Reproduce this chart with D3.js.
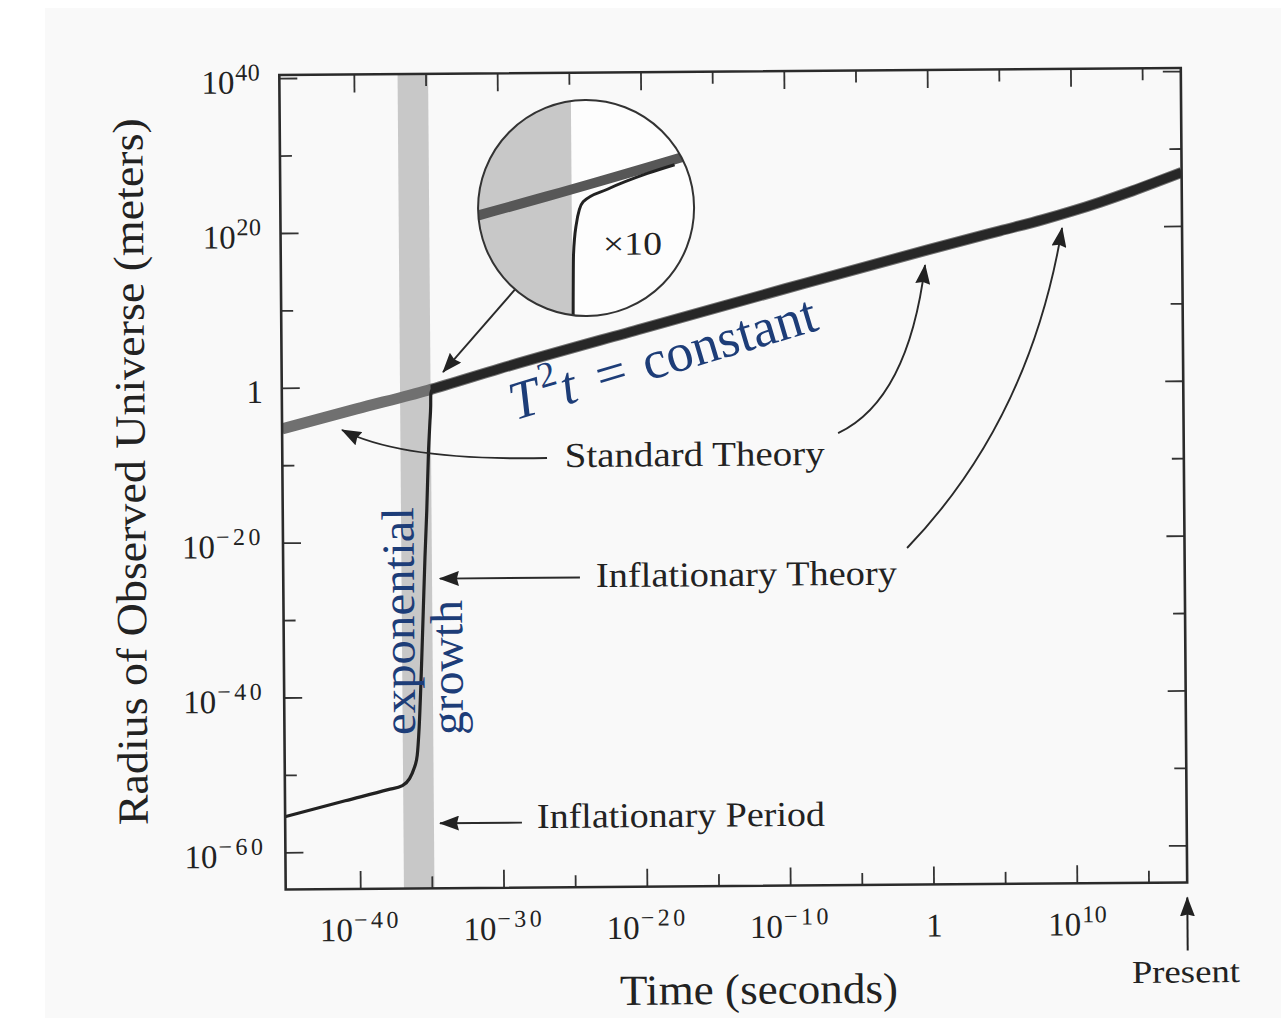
<!DOCTYPE html>
<html>
<head>
<meta charset="utf-8">
<script src="https://cdn.jsdelivr.net/npm/d3@7"></script>
<style>
  html, body { margin: 0; padding: 0; background: #ffffff; }
  svg { display: block; }
</style>
</head>
<body>
<svg id="chart" width="1281" height="1018"></svg>
<script>
// Time is given as log10(seconds), radius as log10(meters).
const standardTime   = [-45.2, -40, -35, -30, -20, -10, 0, 5, 8, 10, 12, 14, 16, 17.7];
const standardRadius = [-5.3, -2.8, -0.45, 2.25, 7.3, 12.3, 17.2, 19.55, 20.95, 22.0, 23.15, 24.4, 25.75, 26.9];

const inflationTime   = [-45.2, -41, -38, -37.0, -36.5, -36.2, -35.95, -35.8, -35.6, -35.45, -35.3, -35.15, -35.0,
                         -34.88, -34.82, -34.81, -34.79, -34.74, -34.57, -34.29, -34.10];
const inflationRadius = [-55.4, -53.4, -52.0, -51.5, -50.6, -49.4, -47.6, -44, -36, -29, -22, -16, -8.5,
                         -4.5, -2.5, -1.2, -0.82, -0.52, -0.36, -0.16, -0.05];

const inflationPeriod = [-36.95, -34.82];   // shaded band, log10 s
const timeDomain   = [-45.2, 17.7];
const radiusDomain = [-64.8, 40.4];

const timeMajor   = [-40, -30, -20, -10, 0, 10];
const timeMinor   = [-35, -25, -15, -5, 5, 15];
const radiusMajor = [-60, -40, -20, 0, 20, 40];
const radiusMinor = [-50, -30, -10, 10, 30];

// Magnified view of the moment inflation ends
const insetFocus  = [-34.72, -0.6];
const insetCenter = [-23.87, 22.92];
const insetRadius = 108;
const insetZoom   = 10;

const frame = { left: 282.5, right: 1184, top: 71.5, bottom: 886 };
const serif = '"Liberation Serif", "Times New Roman", serif';
const ink = '#222';
const blue = '#1d3d78';

const svg = d3.select('#chart');
svg.append('rect').attr('x', 45).attr('y', 8).attr('width', 1236).attr('height', 1010).attr('fill', '#f9f9f9');

const g = svg.append('g').attr('transform', 'rotate(-0.45 733 480)');

const x = d3.scaleLog().domain(timeDomain.map(e => 10 ** e)).range([frame.left, frame.right]);
const y = d3.scaleLog().domain(radiusDomain.map(e => 10 ** e)).range([frame.bottom, frame.top]);
const px = e => x(10 ** e);
const py = e => y(10 ** e);

const makeLine = (sx, sy) => d3.line()
  .x(d => sx(10 ** d[0]))
  .y(d => sy(10 ** d[1]))
  .curve(d3.curveMonotoneX);

const standardPts  = standardTime.map((t, i) => [t, standardRadius[i]]);
const inflationPts = inflationTime.map((t, i) => [t, inflationRadius[i]]);

const defs = svg.append('defs');
defs.append('clipPath').attr('id', 'plotClip').append('rect')
  .attr('x', frame.left).attr('y', frame.top)
  .attr('width', frame.right - frame.left).attr('height', frame.bottom - frame.top);
defs.append('clipPath').attr('id', 'afterInflation').append('rect')
  .attr('x', px(inflationPeriod[1])).attr('y', frame.top)
  .attr('width', frame.right - px(inflationPeriod[1])).attr('height', frame.bottom - frame.top);
defs.append('marker')
  .attr('id', 'head').attr('viewBox', '0 0 20 15').attr('refX', 19).attr('refY', 7.5)
  .attr('markerWidth', 20).attr('markerHeight', 15).attr('markerUnits', 'userSpaceOnUse')
  .attr('orient', 'auto')
  .append('path').attr('d', 'M0,0 L20,7.5 L0,15 L2,7.5 Z').attr('fill', ink);

// ---- plot body ----
const plot = g.append('g').attr('clip-path', 'url(#plotClip)');
plot.append('rect')
  .attr('x', px(inflationPeriod[0])).attr('y', frame.top)
  .attr('width', px(inflationPeriod[1]) - px(inflationPeriod[0]))
  .attr('height', frame.bottom - frame.top)
  .attr('fill', '#c8c8c8');

const mainLine = makeLine(x, y);
plot.append('path').datum(standardPts).attr('d', mainLine)
  .attr('fill', 'none').attr('stroke', '#707070').attr('stroke-width', 11);
plot.append('path').datum(inflationPts).attr('d', mainLine)
  .attr('fill', 'none').attr('stroke', ink).attr('stroke-width', 3.2).attr('stroke-linejoin', 'round');
plot.append('g').attr('clip-path', 'url(#afterInflation)')
  .append('path').datum(standardPts).attr('d', mainLine)
  .attr('fill', 'none').attr('stroke', '#272727').attr('stroke-width', 9);

// ---- axes ----
function expLabel(d) {
  const e = Math.round(Math.log10(d));
  const t = d3.select(this).text(null);
  if (e === 0) { t.append('tspan').attr('font-size', 33).text('1'); return; }
  t.append('tspan').attr('font-size', 33).text('10');
  t.append('tspan').attr('font-size', 24).attr('dx', 1).attr('dy', -13)
    .attr('letter-spacing', e < 0 ? 3.5 : 0.5)
    .text(e < 0 ? '\u2212' + (-e) : String(e));
}

function styleAxis(sel) {
  sel.select('.domain').remove();
  sel.selectAll('.tick line').attr('stroke', '#333').attr('stroke-width', 1.8);
  sel.selectAll('.tick text').attr('font-family', serif).attr('fill', ink);
}

const tv = arr => arr.map(e => 10 ** e);

g.append('g').attr('transform', `translate(0,${frame.bottom})`)
  .call(d3.axisBottom(x).tickValues(tv(timeMajor)).tickSize(-18))
  .call(styleAxis)
  .selectAll('.tick text').attr('y', 52).attr('dy', null).each(expLabel);
g.append('g').attr('transform', `translate(0,${frame.bottom})`)
  .call(d3.axisBottom(x).tickValues(tv(timeMinor)).tickSize(-12).tickFormat(''))
  .call(styleAxis);
g.append('g').attr('transform', `translate(0,${frame.top})`)
  .call(d3.axisTop(x).tickValues(tv(timeMajor)).tickSize(-18).tickFormat(''))
  .call(styleAxis);
g.append('g').attr('transform', `translate(0,${frame.top})`)
  .call(d3.axisTop(x).tickValues(tv(timeMinor)).tickSize(-12).tickFormat(''))
  .call(styleAxis);

g.append('g').attr('transform', `translate(${frame.left},0)`)
  .call(d3.axisLeft(y).tickValues(tv(radiusMajor)).tickSize(-18))
  .call(styleAxis)
  .selectAll('.tick text').attr('x', -19).attr('dy', null).attr('y', 14.5).each(expLabel);
g.append('g').attr('transform', `translate(${frame.left},0)`)
  .call(d3.axisLeft(y).tickValues(tv(radiusMinor)).tickSize(-12).tickFormat(''))
  .call(styleAxis);
g.append('g').attr('transform', `translate(${frame.right},0)`)
  .call(d3.axisRight(y).tickValues(tv(radiusMajor)).tickSize(-18).tickFormat(''))
  .call(styleAxis);
g.append('g').attr('transform', `translate(${frame.right},0)`)
  .call(d3.axisRight(y).tickValues(tv(radiusMinor)).tickSize(-12).tickFormat(''))
  .call(styleAxis);

g.append('rect')
  .attr('x', frame.left).attr('y', frame.top)
  .attr('width', frame.right - frame.left).attr('height', frame.bottom - frame.top)
  .attr('fill', 'none').attr('stroke', '#2b2b2b').attr('stroke-width', 2.6);

// ---- axis titles ----
function label(parent, str, xPos, yPos, size, len, extra) {
  const t = parent.append('text')
    .attr('x', xPos).attr('y', yPos)
    .attr('font-family', serif).attr('font-size', size).attr('fill', ink)
    .text(str);
  if (len) t.attr('textLength', len).attr('lengthAdjust', 'spacingAndGlyphs');
  if (extra) extra(t);
  return t;
}

label(g, 'Time (seconds)', 755, 1004, 43, 278, t => t.attr('text-anchor', 'middle'));
label(g, 'Radius of Observed Universe (meters)', 0, 0, 43, 707, t =>
  t.attr('text-anchor', 'middle').attr('transform', 'translate(145,467) rotate(-90)'));

// "Present" marker below the right end of the time axis
g.append('line')
  .attr('x1', frame.right).attr('x2', frame.right)
  .attr('y1', frame.bottom + 68).attr('y2', frame.bottom + 15)
  .attr('stroke', ink).attr('stroke-width', 2).attr('marker-end', 'url(#head)');
label(g, 'Present', 1128, 986, 32, 108);

// ---- annotations ----
const ann = g.append('g');
const P = (t, r) => [px(t), py(r)];

function arrow(from, to, ctrl) {
  const a = P(from[0], from[1]);
  const b = P(to[0], to[1]);
  const d = ctrl ? `M${a}Q${P(ctrl[0], ctrl[1])} ${b}` : `M${a}L${b}`;
  ann.append('path').attr('d', d)
    .attr('fill', 'none').attr('stroke', '#2a2a2a').attr('stroke-width', 1.9)
    .attr('marker-end', 'url(#head)');
}

arrow([-26.73, -9.33], [-41.02, -5.51], [-36.8, -9.6]);
arrow([-6.41, -6.40], [-0.25, 15.21], [-1.5, -2.2]);
arrow([-24.50, -24.8], [-34.27, -24.8]);
arrow([-1.66, -21.32], [9.33, 19.85], [6.99, -4.92]);
arrow([-28.68, -56.4], [-34.40, -56.4]);

const [sx0, sy0] = P(-25.50, -10.52);
label(ann, 'Standard Theory', sx0, sy0, 35, 260);
const [ix0, iy0] = P(-23.38, -26.05);
label(ann, 'Inflationary Theory', ix0, iy0, 35, 301);
const [px0, py0] = P(-27.63, -57.11);
label(ann, 'Inflationary Period', px0, py0, 35, 288);

// T^2 t = constant along the standard curve
const [tx0, ty0] = P(-28.94, -4.42);
const eq = ann.append('text')
  .attr('transform', `translate(${tx0},${ty0}) rotate(-16.1)`)
  .attr('font-family', serif).attr('font-size', 54).attr('fill', blue);
eq.append('tspan').attr('font-style', 'italic').text('T');
eq.append('tspan').attr('font-size', 36).attr('dx', 4).attr('dy', -23).text('2');
eq.append('tspan').attr('font-style', 'italic').attr('dx', 1).attr('dy', 23).text('t');
eq.append('tspan').attr('dx', 22).text('=');
eq.append('tspan').attr('dx', 18).text('constant');

// vertical labels beside the inflationary curve
const [ex0, ey0] = P(-36.16, -44.97);
label(ann, 'exponential', 0, 0, 46, 228, t =>
  t.attr('fill', blue).attr('transform', `translate(${ex0 + 1},${ey0}) rotate(-90)`));
const [gx0, gy0] = P(-32.47, -45.02);
label(ann, 'growth', 0, 0, 46, 135, t =>
  t.attr('fill', blue).attr('transform', `translate(${gx0 - 4},${gy0}) rotate(-90)`));

// ---- magnified inset ----
const [cx, cy] = P(insetCenter[0], insetCenter[1]);
const [fx, fy] = P(insetFocus[0], insetFocus[1]);
const xi = x.copy().range(x.range().map(v => cx + insetZoom * (v - fx)));
const yi = y.copy().range(y.range().map(v => cy + insetZoom * (v - fy)));

defs.append('clipPath').attr('id', 'insetClip').append('circle')
  .attr('cx', cx).attr('cy', cy).attr('r', insetRadius);

// pointer from the inset to the spot it magnifies
const [tipX, tipY] = P(-33.94, 1.88);
const ang = Math.atan2(tipY - cy, tipX - cx);
ann.append('line')
  .attr('x1', cx + insetRadius * Math.cos(ang)).attr('y1', cy + insetRadius * Math.sin(ang))
  .attr('x2', tipX).attr('y2', tipY)
  .attr('stroke', '#2a2a2a').attr('stroke-width', 1.9).attr('marker-end', 'url(#head)');

const inset = ann.append('g');
inset.append('circle').attr('cx', cx).attr('cy', cy).attr('r', insetRadius).attr('fill', '#fdfdfd');
const insetBody = inset.append('g').attr('clip-path', 'url(#insetClip)');
insetBody.append('rect')
  .attr('x', xi(10 ** inflationPeriod[0])).attr('y', cy - insetRadius)
  .attr('width', xi(10 ** inflationPeriod[1]) - xi(10 ** inflationPeriod[0]))
  .attr('height', 2 * insetRadius)
  .attr('fill', '#c8c8c8');
const insetLine = makeLine(xi, yi);
insetBody.append('path').datum(standardPts).attr('d', insetLine)
  .attr('fill', 'none').attr('stroke', '#575757').attr('stroke-width', 10);
insetBody.append('path').datum(inflationPts).attr('d', insetLine)
  .attr('fill', 'none').attr('stroke', ink).attr('stroke-width', 3);
inset.append('circle').attr('cx', cx).attr('cy', cy).attr('r', insetRadius)
  .attr('fill', 'none').attr('stroke', '#333').attr('stroke-width', 2);

const [zx, zy] = P(-22.71, 16.83);
label(inset, '\u00d710', zx, zy, 33, 59);
</script>
</body>
</html>
